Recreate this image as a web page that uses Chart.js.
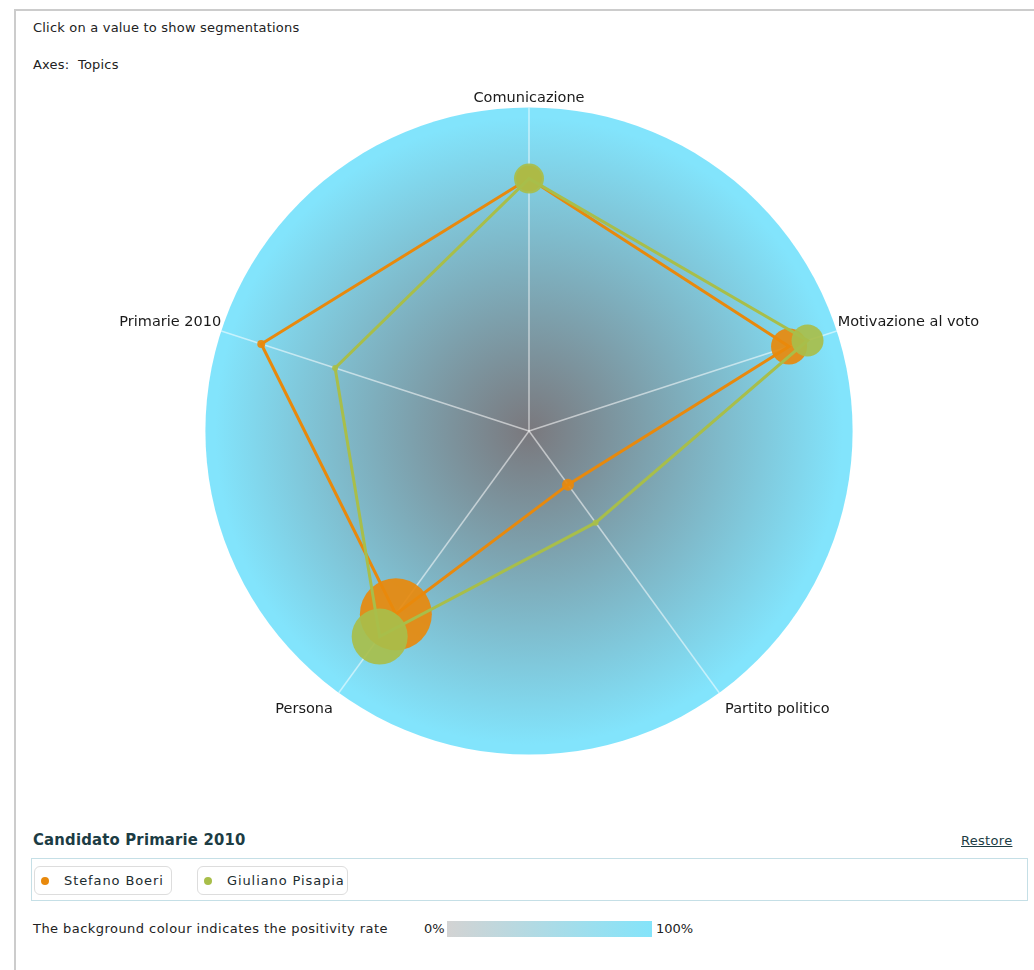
<!DOCTYPE html>
<html>
<head>
<meta charset="utf-8">
<script src="https://cdn.jsdelivr.net/npm/chart.js@4"></script>
<style>
  body { margin: 0; background: #fff; font-family: "DejaVu Sans", sans-serif; font-size: 13px; color: #222; }
  #frame { position: absolute; left: 14px; top: 9px; width: 1100px; height: 1000px; border-left: 2px solid #ccc; border-top: 2px solid #ccc; }
  .txt { position: absolute; white-space: nowrap; }
  #chart-wrap { position: absolute; left: 24px; top: 82px; }
  #title { left: 33px; top: 830px; font-family: "DejaVu Sans Condensed", "DejaVu Sans", sans-serif; font-weight: bold; font-size: 16.5px; letter-spacing: 0.2px; color: #1c3c44; }
  #restore { left: 961px; top: 833px; color: #1c3c44; text-decoration: underline; letter-spacing: 0.3px; }
  #legend-box { position: absolute; left: 31px; top: 858px; width: 995px; height: 41px; border: 1px solid #c5dfe6; }
  .pill { position: absolute; top: 7px; border: 1px solid #ddd; border-radius: 6px; line-height: 27px; padding-left: 29px; box-sizing: border-box; height: 29px; color: #1c2c30; letter-spacing: 0.9px; }
  .pill .dot { position: absolute; left: 6px; top: 10px; width: 8px; height: 8px; border-radius: 50%; }
  #scale-bar { position: absolute; left: 447px; top: 921px; width: 205px; height: 16px; background: linear-gradient(to right, #d3d3d3, #84e4fa); }
</style>
</head>
<body>
<div id="frame"></div>
<div class="txt" style="left:33px;top:20px;letter-spacing:0.2px">Click on a value to show segmentations</div>
<div class="txt" style="left:33px;top:57px;letter-spacing:0.2px">Axes:&nbsp; Topics</div>

<div id="chart-wrap"><canvas id="radar" width="1010" height="683"></canvas></div>

<div class="txt" id="title">Candidato Primarie 2010</div>
<div class="txt" id="restore">Restore</div>
<div id="legend-box"></div>
<div class="txt" style="left:33px;top:921px;letter-spacing:0.45px">The background colour indicates the positivity rate</div>
<div class="txt" style="left:424px;top:921px">0%</div>
<div id="scale-bar"></div>
<div class="txt" style="left:656px;top:921px">100%</div>

<script>
// data
var topics = ['Comunicazione', 'Motivazione al voto', 'Partito politico', 'Persona', 'Primarie 2010']
var candidates = ['Stefano Boeri', 'Giuliano Pisapia']
var boeri = [78, 84.5, 20.5, 70, 87]
var pisapia = [78, 90.5, 35, 78.5, 63]
// bubble size = amount of mentions
var boeriVolume = [13, 18, 6, 36, 4]
var pisapiaVolume = [15, 16, 3, 28, 3]
var colors = ['#e8890c', '#a8be4a']

// LEGEND
var legend_box = document.getElementById('legend-box')
var pill_left = [2, 165]
var pill_width = [138, 151]
for (let i in candidates) {
  legend_box.innerHTML += "<div class=\"pill\" style=\"left:" + pill_left[i] + "px;width:" + pill_width[i] + "px\">" +
                          "<span class=\"dot\" style=\"background:" + colors[i] + "\"></span>" +
                          candidates[i] + "</div>"
}

// circle background behind the axes
var bgPlugin = {
  id: 'bgCircle',
  beforeDraw(chart) {
    var s = chart.scales.r
    var ctx = chart.ctx
    var g = ctx.createRadialGradient(s.xCenter, s.yCenter, 0, s.xCenter, s.yCenter, s.drawingArea)
    g.addColorStop(0, '#7a787d')
    g.addColorStop(0.97, '#82e4fc')
    ctx.save()
    ctx.beginPath()
    ctx.arc(s.xCenter, s.yCenter, s.drawingArea, 0, Math.PI * 2)
    ctx.fillStyle = g
    ctx.fill()
    ctx.restore()
  }
}

function pointSize(vol) {
  return function (c) { return vol[c.dataIndex] }
}

// label gap per axis, bottom labels sit a bit further out
var label_pad = [0, 1, 10, 10, 0]

new Chart(document.getElementById('radar'), {
  type: 'radar',
  data: {
    labels: topics,
    datasets: [{
      label: candidates[0],
      data: boeri,
      borderColor: colors[0],
      backgroundColor: 'rgba(232,137,12,0.92)',
      pointBackgroundColor: 'rgba(232,137,12,0.92)',
      pointBorderWidth: 0,
      pointRadius: pointSize(boeriVolume),
      borderWidth: 3,
      fill: false,
      order: 1
    }, {
      label: candidates[1],
      data: pisapia,
      borderColor: colors[1],
      backgroundColor: 'rgba(168,190,74,0.92)',
      pointBackgroundColor: 'rgba(168,190,74,0.92)',
      pointBorderWidth: 0,
      pointRadius: pointSize(pisapiaVolume),
      borderWidth: 3,
      fill: false,
      order: 0
    }]
  },
  options: {
    responsive: false,
    animation: false,
    devicePixelRatio: 1,
    plugins: { legend: { display: false }, tooltip: { enabled: false } },
    scales: {
      r: {
        min: 0,
        max: 100,
        ticks: { display: false },
        grid: { display: false },
        angleLines: { color: 'rgba(255,255,255,0.55)', lineWidth: 1.5 },
        pointLabels: {
          color: '#1a1a1a',
          padding: function (c) { return label_pad[c.index] },
          font: { family: 'DejaVu Sans', size: 14.5 }
        }
      }
    }
  },
  plugins: [bgPlugin]
})
</script>
</body>
</html>
